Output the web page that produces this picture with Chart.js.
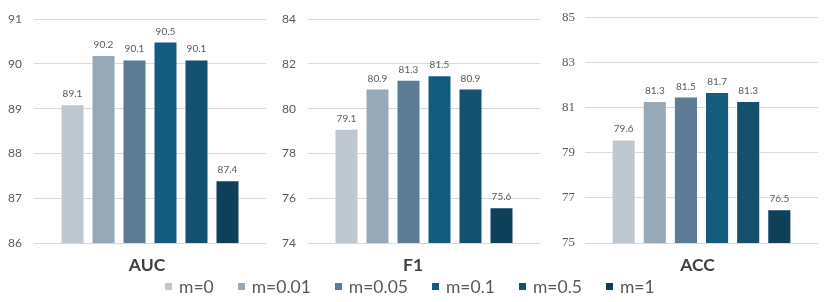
<!DOCTYPE html>
<html>
<head>
<meta charset="utf-8">
<script src="https://cdn.jsdelivr.net/npm/chart.js@4"></script>
<style>
  html, body { margin: 0; padding: 0; background: #fff; }
  body { width: 830px; height: 302px; position: relative; overflow: hidden; font-family: Lato, sans-serif; }
  canvas { position: absolute; top: 0; }
  #legend { position: absolute; left: 165px; top: 276px; display: flex; align-items: center; font: 17.5px Lato, sans-serif; color: #595959; white-space: nowrap; }
  .item { display: flex; align-items: center; margin-right: 24px; }
  .sw { width: 7px; height: 7px; margin-right: 7px; }
</style>
</head>
<body>
<canvas id="c1" width="280" height="280" style="left:0px"></canvas>
<canvas id="c2" width="280" height="280" style="left:274px"></canvas>
<canvas id="c3" width="279" height="280" style="left:551px"></canvas>
<div id="legend"></div>
<script>
// ---- data ----
const seriesLabels = ['m=0', 'm=0.01', 'm=0.05', 'm=0.1', 'm=0.5', 'm=1'];
const seriesColors = ['#BFC7D0', '#97A8B7', '#5D7B94', '#135C7D', '#13516E', '#0E405A'];
const metrics = ['AUC', 'F1', 'ACC'];
const aucValues = [89.1, 90.2, 90.1, 90.5, 90.1, 87.4];
const f1Values = [79.1, 80.9, 81.3, 81.5, 80.9, 75.6];
const accValues = [79.6, 81.3, 81.5, 81.7, 81.3, 76.5];
const aucTicks = { min: 86, max: 91, step: 1 };
const f1Ticks = { min: 74, max: 84, step: 2 };
const accTicks = { min: 75, max: 85, step: 2 };

const valueLabels = {
  id: 'valueLabels',
  afterDatasetsDraw(chart) {
    const ctx = chart.ctx;
    ctx.save();
    ctx.font = '10px Lato, sans-serif';
    ctx.fillStyle = '#595959';
    ctx.textAlign = 'center';
    ctx.textBaseline = 'alphabetic';
    chart.data.datasets.forEach((ds, i) => {
      const meta = chart.getDatasetMeta(i);
      meta.data.forEach((el, j) => {
        ctx.fillText(ds.data[j].toFixed(1), el.x, el.y - 7);
      });
    });
    ctx.restore();
  }
};

function makeChart(id, label, values, ticks, opts) {
  const datasets = seriesLabels.map((s, i) => ({
    label: s,
    data: [values[i]],
    backgroundColor: seriesColors[i],
    borderColor: 'rgba(255,255,255,0.35)',
    borderWidth: 1,
    categoryPercentage: 0.8017,
    barPercentage: 0.774
  }));
  return new Chart(document.getElementById(id), {
    type: 'bar',
    data: { labels: [label], datasets },
    plugins: [valueLabels],
    options: {
      responsive: false,
      animation: false,
      layout: { padding: { left: 0, right: opts.padRight, top: 17, bottom: 0 } },
      plugins: { legend: { display: false }, tooltip: { enabled: false } },
      scales: {
        x: {
          grid: { display: false },
          border: { display: false },
          ticks: {
            font: { family: 'Lato', size: 17.5, weight: 'bold' },
            color: '#404040',
            padding: 4,
            labelOffset: opts.labelOffset
          },
          afterFit(scale) { scale.height = 37; }
        },
        y: {
          min: ticks.min,
          max: ticks.max,
          grid: { color: '#D9D9D9', drawTicks: false, lineWidth: 1 },
          border: { display: false },
          ticks: {
            stepSize: ticks.step,
            padding: opts.tickPad,
            font: opts.tickFont,
            color: '#595959'
          },
          afterFit(scale) { scale.width = 34; }
        }
      }
    }
  });
}

makeChart('c1', metrics[0], aucValues, aucTicks,
  { padRight: 14, labelOffset: -3, tickPad: 12, tickFont: { family: 'Lato', size: 12 } });
makeChart('c2', metrics[1], f1Values, f1Ticks,
  { padRight: 14, labelOffset: -11, tickPad: 12, tickFont: { family: 'Lato', size: 12 } });
makeChart('c3', metrics[2], accValues, accTicks,
  { padRight: 12, labelOffset: -4, tickPad: 10, tickFont: { family: 'Liberation Serif', size: 13 } });

const legend = document.getElementById('legend');
seriesLabels.forEach((s, i) => {
  const item = document.createElement('div');
  item.className = 'item';
  const sw = document.createElement('span');
  sw.className = 'sw';
  sw.style.background = seriesColors[i];
  const tx = document.createElement('span');
  tx.textContent = s;
  item.appendChild(sw);
  item.appendChild(tx);
  legend.appendChild(item);
});
</script>
</body>
</html>
